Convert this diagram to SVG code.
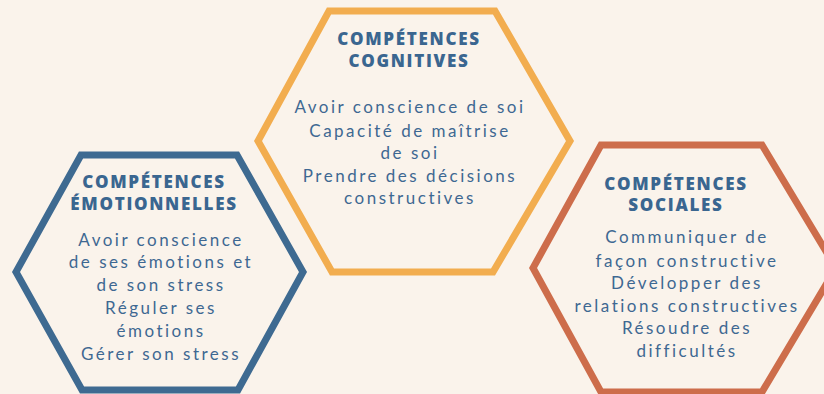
<svg xmlns="http://www.w3.org/2000/svg" width="824" height="394" viewBox="0 0 824 394">
<style>
.hex{fill:none;stroke-width:7;stroke-linejoin:miter}
.t{font-family:"Open Sans","Liberation Sans",sans-serif;font-weight:800;font-size:17px;letter-spacing:1.7px;fill:#3A6690;text-anchor:middle}
.b{font-family:"Lato","Liberation Sans",sans-serif;font-weight:400;font-size:17px;letter-spacing:2.5px;fill:#3E6892;text-anchor:middle}
</style>
<rect width="824" height="394" fill="#FAF3EB"/>
<g id="cognitives">
<polygon class="hex" stroke="#F2AD4F" points="329,11 495,11 570,141 493,272 332,272 258,141"/>
<text class="t" x="409" y="45">COMPÉTENCES</text>
<text class="t" x="409" y="67">COGNITIVES</text>
<text class="b" x="410" y="113">Avoir conscience de soi</text>
<text class="b" x="410" y="137">Capacité de maîtrise</text>
<text class="b" x="410" y="159">de soi</text>
<text class="b" x="410" y="182">Prendre des décisions</text>
<text class="b" x="410" y="204">constructives</text>
</g>
<g id="emotionnelles">
<polygon class="hex" stroke="#3E6A91" points="81,155 237,155 303,272 238,390 82,390 16,272"/>
<text class="t" x="154" y="188">COMPÉTENCES</text>
<text class="t" x="154" y="210">ÉMOTIONNELLES</text>
<text class="b" x="161" y="246">Avoir conscience</text>
<text class="b" x="161" y="268">de ses émotions et</text>
<text class="b" x="161" y="291">de son stress</text>
<text class="b" x="161" y="314">Réguler ses</text>
<text class="b" x="161" y="337">émotions</text>
<text class="b" x="161" y="360">Gérer son stress</text>
</g>
<g id="sociales">
<polygon class="hex" stroke="#CD6D4B" points="601,145 762,145 836,268 762,392 601,392 533,268"/>
<text class="t" x="676" y="190">COMPÉTENCES</text>
<text class="t" x="676" y="211">SOCIALES</text>
<text class="b" x="687" y="243">Communiquer de</text>
<text class="b" x="687" y="267">façon constructive</text>
<text class="b" x="687" y="289">Développer des</text>
<text class="b" x="687" y="312">relations constructives</text>
<text class="b" x="687" y="334">Résoudre des</text>
<text class="b" x="687" y="357">difficultés</text>
</g>
<g id="connectors"/>
</svg>
